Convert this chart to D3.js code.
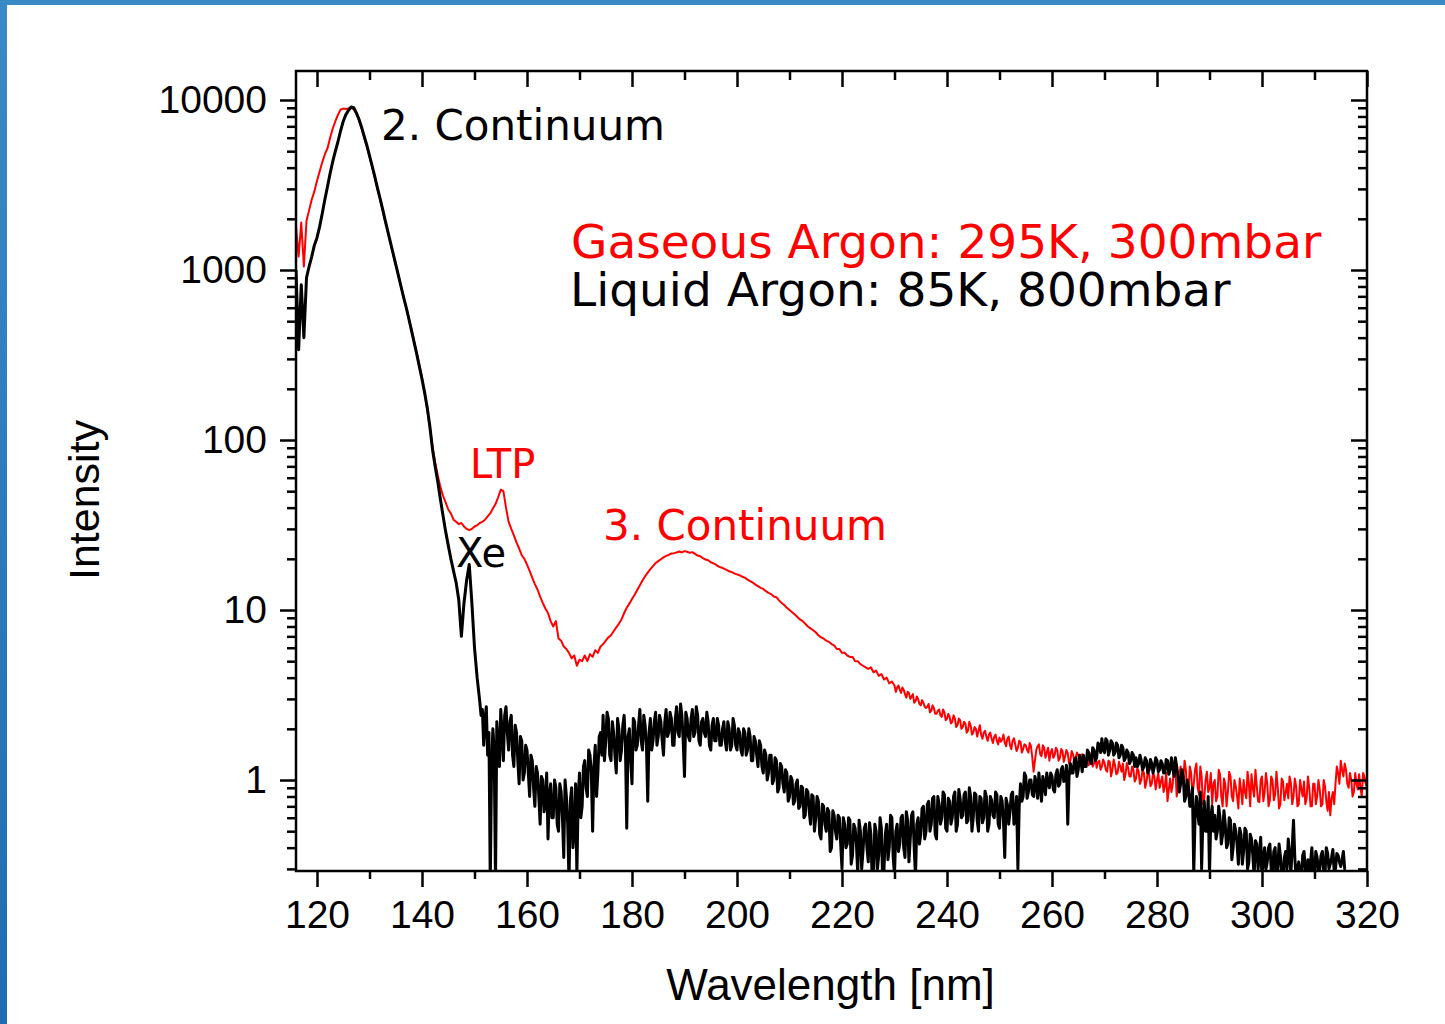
<!DOCTYPE html>
<html>
<head>
<meta charset="utf-8">
<script src="https://cdn.jsdelivr.net/npm/d3@7"></script>
<style>
  body { margin: 0; background: #fff; }
  svg { display: block; }
</style>
</head>
<body>
<div id="chart"></div>
<script>
// spectra sampled every 0.5 nm, first sample at 116 nm
const sampleStart = 116;
const sampleStep = 0.5;

// Gaseous Argon: 295K, 300mbar
const gasIntensity = [
  1800, 1200, 1900, 1050, 1950, 2250, 2600, 2900, 3350, 3800,
  4300, 4800, 5200, 6000, 6800, 7500, 8200, 8800, 8900, 8850,
  8900, 9000, 8800, 8300, 7600, 6800, 6000, 5300, 4650, 4050,
  3500, 3000, 2620, 2250, 1930, 1670, 1440, 1240, 1070, 930,
  800, 690, 600, 520, 445, 380, 325, 275, 232, 190,
  150, 118, 92, 74, 62, 53, 47, 43, 39, 37,
  34, 33, 32, 32.5, 31, 30, 29.5, 30, 31, 31.5,
  32.5, 33, 34, 35.5, 37, 39.5, 42, 46, 51, 50,
  40, 33, 30, 27.5, 25, 23, 21, 20, 18.5, 17,
  15.5, 14.2, 13.2, 12, 11, 10.2, 9.6, 8.6, 8.0, 8.6,
  6.8, 6.6, 6.1, 5.9, 5.6, 5.2, 5.4, 4.7, 5.1, 5.0,
  5.4, 5.0, 5.5, 5.3, 5.8, 5.6, 6.1, 6.3, 6.6, 6.9,
  7.1, 7.5, 7.9, 8.3, 8.8, 9.6, 10.3, 10.9, 11.6, 12.3,
  13.1, 14.0, 14.9, 15.8, 16.6, 17.4, 18.1, 18.9, 19.4, 19.9,
  20.4, 20.8, 21.1, 21.5, 21.6, 21.8, 22.1, 21.8, 22.2, 22.0,
  21.7, 21.9, 21.4, 20.9, 20.7, 20.2, 19.8, 19.6, 19.1, 18.8,
  18.5, 18.0, 17.8, 17.5, 17.2, 16.9, 16.7, 16.4, 16.2, 16.0,
  15.7, 15.5, 15.1, 14.8, 14.5, 14.1, 13.8, 13.5, 13.3, 12.9,
  12.6, 12.4, 12.0, 11.9, 11.4, 11.0, 10.7, 10.3, 10.0, 9.7,
  9.4, 9.1, 8.8, 8.6, 8.3, 8.0, 7.8, 7.6, 7.4, 7.1,
  6.9, 6.8, 6.6, 6.5, 6.3, 6.2, 5.9, 5.9, 5.6, 5.6,
  5.4, 5.3, 5.3, 5.0, 5.0, 4.8, 4.7, 4.6, 4.5, 4.6,
  4.3, 4.4, 4.1, 4.2, 3.9, 4.0, 3.7, 3.8, 3.6, 3.5,
  3.4, 3.5, 3.2, 3.3, 3.0, 3.2, 2.9, 3.0, 2.75, 2.85,
  2.65, 2.8, 2.55, 2.65, 2.45, 2.6, 2.35, 2.5, 2.3, 2.35,
  2.2, 2.3, 2.1, 2.25, 2.05, 2.15, 1.95, 2.1, 1.9, 2.0,
  1.95, 1.85, 1.9, 1.8, 1.85, 1.75, 1.8, 1.7, 1.78, 1.72,
  1.66, 1.75, 1.6, 1.7, 1.62, 1.55, 1.68, 1.52, 1.6, 1.45,
  1.58, 1.12, 1.5, 1.62, 1.38, 1.55, 1.45, 1.3, 1.52, 1.4,
  1.5, 1.35, 1.48, 1.38, 1.44, 1.3, 1.42, 1.35, 1.4, 1.28,
  1.36, 1.3, 1.22, 1.35, 1.25, 1.18, 1.3, 1.2, 1.26, 1.12,
  1.28, 1.15, 1.22, 1.1, 1.2, 1.25, 1.08, 1.18, 1.05, 1.15,
  1.02, 1.12, 1.0, 1.1, 0.98, 1.08, 0.95, 1.05, 1.0, 0.9,
  1.05, 0.92, 0.75, 1.02, 0.95, 1.15, 0.9, 1.2, 1.0, 1.15,
  0.85, 1.1, 0.95, 1.25, 0.82, 1.05, 0.78, 1.12, 0.9, 0.72,
  1.0, 0.8, 1.08, 0.7, 0.95, 0.85, 1.05, 0.75, 0.92, 0.68,
  0.88, 1.0, 0.78, 0.95, 1.08, 0.8, 0.92, 0.74, 1.05, 0.85,
  0.95, 0.76, 1.0, 0.82, 0.9, 0.72, 0.98, 0.84, 0.78, 0.96,
  0.8, 0.92, 0.72, 0.88, 0.98, 0.78, 0.9, 0.7, 0.95, 0.8,
  0.88, 0.72, 0.92, 0.66, 0.62, 0.85, 0.95, 1.1, 1.3, 1.05,
  1.15, 0.9, 1.0, 0.85, 0.95, 1.08, 0.8, 1.05, 0.9
];

// extra gas samples in the noisy tail, at 230.25, 230.75, ... 319.75 nm
const gasMidStart = 230.25;
const gasIntensityMid = [
  3.3, 3.6, 3.25, 3.4, 3.05, 3.25, 3.1, 2.85, 3.1, 2.8,
  2.95, 2.7, 2.7, 2.5, 2.75, 2.45, 2.55, 2.4, 2.6, 2.25,
  2.45, 2.15, 2.4, 2.05, 2.3, 2.0, 2.2, 1.9, 2.2, 1.85,
  2.05, 1.8, 2.1, 1.75, 1.95, 1.7, 1.9, 1.65, 1.85, 1.62,
  1.68, 1.85, 1.58, 1.8, 1.52, 1.76, 1.48, 1.7, 1.45, 1.62,
  1.5, 1.65, 1.35, 1.3, 1.58, 1.42, 1.6, 1.35, 1.55, 1.45,
  1.35, 1.55, 1.3, 1.52, 1.28, 1.5, 1.25, 1.48, 1.28, 1.45,
  1.22, 1.42, 1.2, 1.4, 1.3, 1.2, 1.38, 1.28, 1.15, 1.32,
  1.15, 1.3, 1.05, 1.32, 1.08, 1.28, 1.12, 1.0, 1.26, 1.05,
  1.2, 0.98, 1.18, 0.95, 1.16, 0.9, 1.12, 0.92, 1.1, 0.88,
  1.1, 0.98, 0.85, 1.1, 0.88, 0.85, 1.22, 0.8, 1.08, 0.95,
  1.3, 0.82, 1.2, 0.8, 1.15, 0.9, 1.2, 0.72, 1.0, 0.85,
  1.1, 0.95, 0.75, 1.15, 0.8, 1.02, 0.7, 1.12, 0.8, 1.0,
  0.8, 1.02, 0.72, 0.85, 1.12, 0.7, 0.9, 1.15, 0.75, 1.0,
  0.75, 1.1, 0.7, 1.05, 0.76, 1.12, 0.68, 1.02, 0.76, 0.95,
  1.05, 0.72, 1.02, 0.7, 1.0, 0.8, 0.72, 1.05, 0.7, 0.95,
  0.72, 1.0, 0.7, 1.0, 0.75, 0.85, 0.78, 0.72, 1.2, 0.95,
  1.15, 1.25, 0.95, 1.1, 0.8, 1.1, 0.88, 0.9, 1.1, 0.95
];

// Liquid Argon: 85K, 800mbar
const liquidIntensity = [
  1000, 340, 820, 400, 900, 1050, 1200, 1400, 1550, 1800,
  2150, 2600, 3100, 3700, 4350, 5000, 5700, 6600, 7500, 8200,
  8700, 9100, 9000, 8400, 7700, 6900, 6100, 5400, 4700, 4100,
  3550, 3050, 2650, 2280, 1950, 1680, 1450, 1250, 1080, 930,
  800, 690, 600, 515, 440, 375, 320, 270, 228, 190,
  155, 120, 88, 70, 57, 45, 36, 29, 24, 20,
  17, 14.5, 11.5, 7.0, 11, 15, 18.5, 11, 6, 4.0,
  2.9, 2.6, 2.3, 1.4, 0.25, 2.0, 0.25, 1.6, 2.6, 1.3,
  2.7, 1.5, 2.4, 1.2, 1.9, 0.95, 1.7, 1.1, 1.5, 0.8,
  1.3, 0.7, 1.1, 0.55, 1.0, 0.75, 0.45, 0.95, 0.6, 0.9,
  0.5, 0.85, 0.35, 0.8, 0.25, 0.9, 0.5, 0.28, 1.1, 0.7,
  1.3, 0.8, 1.4, 0.5, 1.6, 1.1, 1.9, 2.4, 1.7, 2.3,
  1.3, 1.9, 1.1, 2.0, 1.5, 2.4, 0.52, 2.0, 0.95, 2.2,
  1.6, 2.6, 1.5, 2.1, 0.75, 2.3, 1.7, 2.5, 1.8, 2.2,
  1.4, 2.6, 1.9, 2.3, 1.6, 2.7, 1.8, 2.4, 1.05, 2.3,
  1.7, 2.6, 1.9, 2.4, 1.6, 2.3, 1.8, 2.2, 1.5, 2.3,
  1.7, 2.1, 1.6, 2.2, 1.5, 2.0, 1.6, 2.1, 1.5, 1.9,
  1.4, 1.9, 1.5, 1.8, 1.3, 1.7, 1.2, 1.6, 1.1, 1.4,
  1.1, 1.4, 1.0, 1.3, 0.9, 1.2, 0.85, 1.1, 0.8, 1.0,
  0.75, 1.0, 0.7, 0.9, 0.62, 0.85, 0.55, 0.8, 0.6, 0.75,
  0.45, 0.7, 0.5, 0.65, 0.4, 0.62, 0.45, 0.6, 0.3, 0.55,
  0.42, 0.58, 0.36, 0.52, 0.28, 0.5, 0.38, 0.55, 0.33, 0.48,
  0.27, 0.5, 0.36, 0.52, 0.3, 0.55, 0.4, 0.6, 0.28, 0.55,
  0.42, 0.62, 0.35, 0.58, 0.45, 0.65, 0.27, 0.6, 0.48, 0.7,
  0.5, 0.75, 0.55, 0.8, 0.45, 0.72, 0.6, 0.82, 0.5, 0.75,
  0.6, 0.85, 0.55, 0.78, 0.62, 0.85, 0.58, 0.8, 0.6, 0.82,
  0.5, 0.78, 0.6, 0.8, 0.55, 0.76, 0.6, 0.82, 0.52, 0.75,
  0.35, 0.72, 0.65, 0.85, 0.6, 0.3, 0.95, 0.8, 1.05, 0.85,
  1.0, 0.8, 0.95, 1.1, 0.75, 0.95, 1.1, 0.9, 1.05, 0.85,
  1.15, 0.95, 1.2, 1.0, 0.55, 1.25, 1.1, 1.35, 1.15, 1.3,
  1.4, 1.2, 1.45, 1.25, 1.5, 1.35, 1.6, 1.75, 1.45, 1.7,
  1.5, 1.65, 1.45, 1.6, 1.4, 1.55, 1.35, 1.45, 1.3, 1.4,
  1.35, 1.25, 1.3, 1.2, 1.3, 1.15, 1.25, 1.2, 1.3, 1.15,
  1.25, 1.1, 1.3, 1.15, 1.2, 1.35, 1.05, 0.95, 1.05, 0.8,
  0.9, 0.7, 0.28, 0.8, 0.55, 0.3, 0.75, 0.5, 0.28, 0.7,
  0.62, 0.5, 0.6, 0.48, 0.55, 0.42, 0.58, 0.4, 0.5, 0.32,
  0.48, 0.38, 0.5, 0.33, 0.45, 0.27, 0.42, 0.36, 0.25, 0.4,
  0.33, 0.42, 0.27, 0.4, 0.3, 0.36, 0.25, 0.38, 0.45, 0.28,
  0.58, 0.26, 0.33, 0.25, 0.38, 0.27, 0.26, 0.4, 0.27, 0.35,
  0.3, 0.38, 0.28, 0.37, 0.32, 0.39, 0.3, 0.36, 0.31, 0.38,
  0.3
];

// extra liquid samples in the noisy part, at 151.25, 151.75, ... 315.75 nm
const liquidMidStart = 151.25;
const liquidIntensityMid = [
  2.4, 1.6, 2.7, 1.9, 1.2, 1.5, 2.2, 1.2, 1.9, 2.4,
  1.9, 2.2, 1.4, 2.1, 1.3, 1.8, 1.0, 1.6, 1.1, 1.4,
  0.9, 1.2, 0.8, 1.05, 0.65, 1.1, 0.8, 0.6, 1.0, 0.55,
  0.95, 0.6, 1.0, 0.55, 0.75, 0.4, 0.95, 0.8, 0.6, 1.2,
  0.9, 1.5, 1.1, 1.2, 0.8, 1.8, 1.4, 1.3, 2.5, 1.4,
  2.2, 1.4, 2.3, 1.3, 2.1, 1.6, 1.8, 1.3, 2.3, 1.5,
  2.1, 1.7, 2.4, 1.6, 1.9, 1.5, 2.2, 1.6, 2.4, 1.7,
  2.2, 1.8, 2.5, 1.6, 2.3, 1.9, 2.8, 1.7, 2.5, 1.8,
  2.3, 1.8, 2.7, 1.7, 2.2, 1.9, 2.5, 1.6, 2.1, 1.7,
  2.3, 1.6, 2.0, 1.7, 2.2, 1.5, 2.3, 1.6, 2.0, 1.5,
  2.0, 1.4, 2.0, 1.3, 1.8, 1.4, 1.7, 1.2, 1.5, 1.0,
  1.4, 0.95, 1.35, 0.85, 1.25, 0.95, 1.15, 0.75, 1.05, 0.72,
  0.95, 0.68, 0.92, 0.6, 0.88, 0.66, 0.82, 0.5, 0.8, 0.48,
  0.72, 0.55, 0.68, 0.38, 0.66, 0.5, 0.62, 0.42, 0.6, 0.4,
  0.6, 0.32, 0.55, 0.42, 0.58, 0.3, 0.52, 0.4, 0.56, 0.26,
  0.55, 0.3, 0.6, 0.25, 0.48, 0.34, 0.62, 0.35, 0.5, 0.38,
  0.6, 0.4, 0.65, 0.33, 0.62, 0.4, 0.55, 0.42, 0.68, 0.45,
  0.72, 0.5, 0.78, 0.48, 0.8, 0.55, 0.85, 0.52, 0.78, 0.55,
  0.8, 0.5, 0.88, 0.6, 0.82, 0.56, 0.9, 0.5, 0.84, 0.58,
  0.8, 0.56, 0.86, 0.5, 0.8, 0.62, 0.85, 0.55, 0.8, 0.58,
  0.78, 0.55, 0.82, 0.55, 0.8, 0.7, 0.75, 1.1, 0.78, 1.0,
  0.82, 1.05, 0.78, 0.9, 1.05, 0.82, 0.95, 1.1, 0.88, 1.08,
  0.92, 1.15, 0.98, 1.22, 1.05, 1.1, 1.3, 1.05, 1.4, 1.12,
  1.2, 1.5, 1.3, 1.55, 1.3, 1.65, 1.45, 1.5, 1.75, 1.4,
  1.7, 1.4, 1.65, 1.35, 1.6, 1.3, 1.5, 1.25, 1.45, 1.2,
  1.2, 1.4, 1.15, 1.35, 1.1, 1.32, 1.1, 1.35, 1.12, 1.3,
  1.1, 1.32, 1.08, 1.35, 1.05, 1.2, 0.85, 1.15, 0.75, 1.0,
  0.7, 0.9, 0.6, 0.65, 0.85, 0.6, 0.5, 0.8, 0.6, 0.5,
  0.45, 0.7, 0.42, 0.66, 0.4, 0.6, 0.34, 0.55, 0.42, 0.52,
  0.32, 0.52, 0.3, 0.48, 0.36, 0.44, 0.3, 0.46, 0.35, 0.3,
  0.4, 0.3, 0.38, 0.26, 0.42, 0.28, 0.35, 0.3, 0.36, 0.4,
  0.35, 0.3, 0.28, 0.36, 0.3, 0.34, 0.33, 0.28, 0.38, 0.29,
  0.36, 0.29, 0.4, 0.3, 0.35, 0.29, 0.37, 0.33, 0.34, 0.3
];

const xTickValues = [120, 140, 160, 180, 200, 220, 240, 260, 280, 300, 320];
const xMinorValues = [130, 150, 170, 190, 210, 230, 250, 270, 290, 310];
const yTickValues = [1, 10, 100, 1000, 10000];
const yTickLabels = ["1", "10", "100", "1000", "10000"];

const w = 1445;
const h = 1024;
const plotLeft = 296, plotRight = 1367, plotTop = 71, plotBottom = 871;

const svg = d3.select("#chart")
  .append("svg")
  .attr("width", w)
  .attr("height", h);

// blue frame of the slide
const defs = svg.append("defs");
const grad = defs.append("linearGradient")
  .attr("id", "edge")
  .attr("x1", 0).attr("y1", 0).attr("x2", 0).attr("y2", 1);
grad.append("stop").attr("offset", "0%").attr("stop-color", "#3a8ac6");
grad.append("stop").attr("offset", "100%").attr("stop-color", "#1e6cb4");

svg.append("rect").attr("x", 0).attr("y", 0).attr("width", w).attr("height", 5).attr("fill", "#3a8ac6");
svg.append("rect").attr("x", 0).attr("y", 0).attr("width", 7).attr("height", h).attr("fill", "url(#edge)");

defs.append("clipPath").attr("id", "plot")
  .append("rect")
  .attr("x", plotLeft).attr("y", plotTop)
  .attr("width", plotRight - plotLeft).attr("height", plotBottom - plotTop);

const xScale = d3.scaleLinear()
  .domain([116, 320])
  .range([plotLeft, plotRight]);

const yScale = d3.scaleLog()
  .domain([0.2916, 14810])
  .range([plotBottom, plotTop]);

// minor log ticks: 2..9 in each decade inside the domain
const yMinorValues = [];
[0.1, 1, 10, 100, 1000].forEach(dec => {
  for (let k = 2; k <= 9; k++) {
    const v = dec * k;
    if (v >= yScale.domain()[0] && v <= yScale.domain()[1]) yMinorValues.push(v);
  }
});

// merge the regular samples with the in-between ones, sorted by wavelength
function toPoints(arr, midStart, mid) {
  const pts = arr.map((v, i) => [sampleStart + i * sampleStep, v]);
  mid.forEach((v, i) => pts.push([midStart + i * sampleStep, v]));
  return pts.sort((a, b) => a[0] - b[0]);
}

const line = d3.line()
  .x(d => xScale(d[0]))
  .y(d => yScale(Math.max(d[1], 0.1)));

const plot = svg.append("g").attr("clip-path", "url(#plot)");

plot.append("path")
  .datum(toPoints(gasIntensity, gasMidStart, gasIntensityMid))
  .attr("fill", "none")
  .attr("stroke", "#ff0000")
  .attr("stroke-width", 2)
  .attr("stroke-linejoin", "round")
  .attr("d", line);

plot.append("path")
  .datum(toPoints(liquidIntensity, liquidMidStart, liquidIntensityMid))
  .attr("fill", "none")
  .attr("stroke", "#000")
  .attr("stroke-width", 3)
  .attr("stroke-linejoin", "round")
  .attr("d", line);

// axes
const tickFont = "'Liberation Sans', Arial, sans-serif";

function styleAxis(g) {
  g.select(".domain").remove();
  g.selectAll(".tick line").attr("stroke", "#000").attr("stroke-width", 2.5);
  g.selectAll("text")
    .attr("fill", "#000")
    .style("font-family", tickFont)
    .style("font-size", "39px");
}

// bottom: ticks outward
svg.append("g")
  .attr("transform", "translate(0," + plotBottom + ")")
  .call(d3.axisBottom(xScale).tickValues(xTickValues).tickSize(16).tickPadding(13).tickFormat(d3.format("d")))
  .call(styleAxis);
svg.append("g")
  .attr("transform", "translate(0," + plotBottom + ")")
  .call(d3.axisBottom(xScale).tickValues(xMinorValues).tickSize(8).tickFormat(""))
  .call(styleAxis);

// top: ticks inward
svg.append("g")
  .attr("transform", "translate(0," + plotTop + ")")
  .call(d3.axisBottom(xScale).tickValues(xTickValues).tickSize(16).tickFormat(""))
  .call(styleAxis);
svg.append("g")
  .attr("transform", "translate(0," + plotTop + ")")
  .call(d3.axisBottom(xScale).tickValues(xMinorValues).tickSize(9).tickFormat(""))
  .call(styleAxis);

// left: ticks outward
svg.append("g")
  .attr("transform", "translate(" + plotLeft + ",0)")
  .call(d3.axisLeft(yScale).tickValues(yTickValues).tickSize(16).tickPadding(13)
    .tickFormat((d, i) => yTickLabels[i]))
  .call(styleAxis);
svg.append("g")
  .attr("transform", "translate(" + plotLeft + ",0)")
  .call(d3.axisLeft(yScale).tickValues(yMinorValues).tickSize(9).tickFormat(""))
  .call(styleAxis);

// right: ticks inward
svg.append("g")
  .attr("transform", "translate(" + plotRight + ",0)")
  .call(d3.axisLeft(yScale).tickValues(yTickValues).tickSize(16).tickFormat(""))
  .call(styleAxis);
svg.append("g")
  .attr("transform", "translate(" + plotRight + ",0)")
  .call(d3.axisLeft(yScale).tickValues(yMinorValues).tickSize(9).tickFormat(""))
  .call(styleAxis);

svg.append("rect")
  .attr("x", plotLeft).attr("y", plotTop)
  .attr("width", plotRight - plotLeft).attr("height", plotBottom - plotTop)
  .attr("fill", "none")
  .attr("stroke", "#000")
  .attr("stroke-width", 2.5);

// axis titles
svg.append("text")
  .attr("x", (plotLeft + plotRight) / 2 - 1)
  .attr("y", 1000)
  .attr("text-anchor", "middle")
  .style("font-family", tickFont)
  .style("font-size", "44px")
  .text("Wavelength [nm]");

svg.append("text")
  .attr("transform", "translate(99,500) rotate(-90)")
  .attr("text-anchor", "middle")
  .style("font-family", tickFont)
  .style("font-size", "43px")
  .text("Intensity");

// annotations
const noteFont = "'DejaVu Sans', Verdana, sans-serif";
const notes = [
  { text: "2. Continuum", x: 381, y: 140, size: 42, color: "#000" },
  { text: "Gaseous Argon: 295K, 300mbar", x: 571, y: 258, size: 47, color: "#ff0000" },
  { text: "Liquid Argon: 85K, 800mbar", x: 570, y: 306, size: 47, color: "#000" },
  { text: "LTP", x: 470, y: 478, size: 40, color: "#ff0000" },
  { text: "3. Continuum", x: 603, y: 540, size: 42, color: "#ff0000" },
  { text: "Xe", x: 456, y: 567, size: 40, color: "#000" }
];

svg.selectAll("text.note")
  .data(notes)
  .enter()
  .append("text")
  .attr("class", "note")
  .attr("x", d => d.x)
  .attr("y", d => d.y)
  .attr("fill", d => d.color)
  .style("font-family", noteFont)
  .style("font-size", d => d.size + "px")
  .text(d => d.text);
</script>
</body>
</html>
